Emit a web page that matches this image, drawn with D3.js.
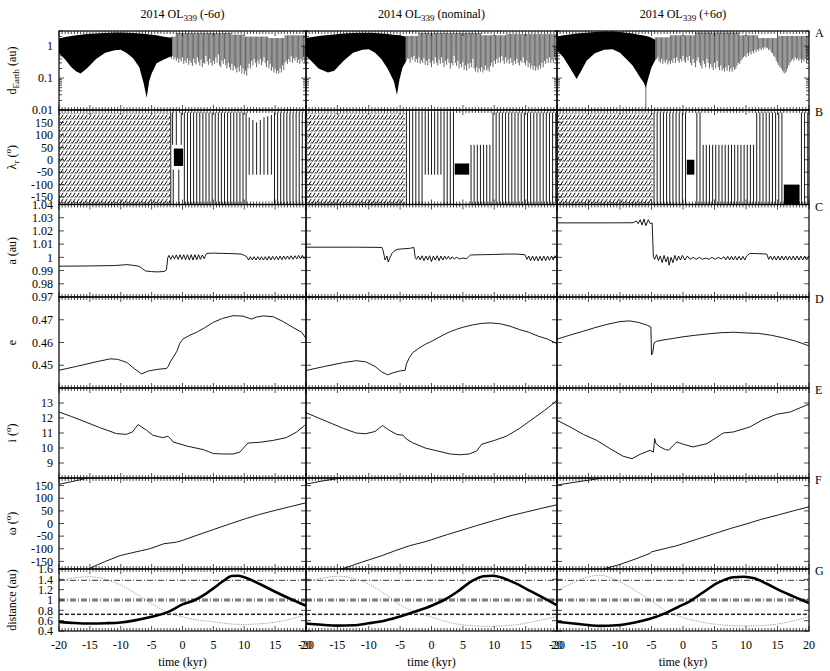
<!DOCTYPE html>
<html>
<head>
<meta charset="utf-8">
<script src="https://cdn.jsdelivr.net/npm/d3@7"></script>
<style>
  body { margin: 0; background: #fff; }
  text { font-family: "Liberation Serif", "DejaVu Serif", serif; font-size: 12px; fill: #000; }
</style>
</head>
<body>
<svg id="chart" width="830" height="671"></svg>
<script>
// ---- data (time in kyr) ----
var titles = ["(-6σ)", "(nominal)", "(+6σ)"];
var timeTicks = [-20, -15, -10, -5, 0, 5, 10, 15, 20];
var panelLetters = ["A", "B", "C", "D", "E", "F", "G"];
var dTicks = [0.01, 0.1, 1];
var lamTicks = [-150, -100, -50, 0, 50, 100, 150];
var aTicks = [0.97, 0.98, 0.99, 1, 1.01, 1.02, 1.03, 1.04];
var eTicks = [0.45, 0.46, 0.47];
var iTicks = [9, 10, 11, 12, 13];
var wTicks = [-150, -100, -50, 0, 50, 100, 150];
var gTicks = [0.4, 0.6, 0.8, 1, 1.2, 1.4, 1.6];
// perihelion / aphelion of Mars, Earth, Venus (au)
var planetDist = [1.381, 1.017, 0.983, 0.728, 0.718];

// A: filled band [t, upper, lower]; close-approach minima [t, low]; top of the spikes [t0, t1, high]
var dBandM6 = [[-20,1.75,0.6],[-19,1.95,0.38],[-18,2.1,0.22],[-17.2,2.2,0.16],[-16.5,2.3,0.14],[-15.5,2.4,0.2],[-14,2.5,0.4],[-12.5,2.6,0.62],[-11,2.7,0.75],[-10,2.7,0.78],[-9,2.65,0.6],[-8,2.6,0.42],[-7,2.5,0.22],[-6.3,2.45,0.07],[-5.8,2.4,0.024],[-5.4,2.35,0.08],[-5,2.3,0.14],[-4.2,2.2,0.29],[-3.2,2.0,0.37],[-2.1,1.87,0.46],[-1.7,1.85,0.48]];
var dLowM6 = [[-1.8,0.4],[-1.6,0.5],[-1.4,0.38],[-1.2,0.45],[-1.0,0.35],[-0.8,0.42],[-0.6,0.3],[-0.4,0.4],[-0.2,0.33],[0,0.45],[0.2,0.28],[0.4,0.36],[0.6,0.3],[0.8,0.42],[1.0,0.26],[1.2,0.35],[1.4,0.3],[1.6,0.24],[1.8,0.4],[2.0,0.3],[2.2,0.27],[2.4,0.45],[2.6,0.32],[2.8,0.25],[3.0,0.38],[3.2,0.22],[3.4,0.3],[3.6,0.28],[3.8,0.5],[4.0,0.33],[4.2,0.26],[4.4,0.4],[4.6,0.3],[4.8,0.24],[5.0,0.35],[5.2,0.28],[5.4,0.45],[5.6,0.3],[5.8,0.55],[6.0,0.25],[6.2,0.22],[6.4,0.35],[6.6,0.28],[6.8,0.4],[7.0,0.25],[7.2,0.2],[7.4,0.3],[7.6,0.22],[7.8,0.18],[8.0,0.28],[8.2,0.17],[8.4,0.24],[8.6,0.2],[8.8,0.15],[9.0,0.22],[9.2,0.16],[9.4,0.25],[9.6,0.14],[9.8,0.2],[10.0,0.13],[10.2,0.17],[10.4,0.12],[10.6,0.2],[10.8,0.28],[11.0,0.2],[11.2,0.35],[11.4,0.25],[11.6,0.4],[11.8,0.3],[12.0,0.22],[12.2,0.35],[12.4,0.28],[12.6,0.4],[12.8,0.25],[13.0,0.33],[13.2,0.45],[13.4,0.3],[13.6,0.22],[13.8,0.35],[14.0,0.2],[14.2,0.28],[14.4,0.17],[14.6,0.22],[14.8,0.15],[15.0,0.19],[15.2,0.14],[15.4,0.17],[15.6,0.14],[15.8,0.2],[16.0,0.15],[16.2,0.25],[16.4,0.18],[16.6,0.3],[16.8,0.35],[17.0,0.28],[17.2,0.4],[17.4,0.32],[17.6,0.5],[17.8,0.3],[18.0,0.42],[18.2,0.35],[18.4,0.45],[18.6,0.3],[18.8,0.38],[19.0,0.28],[19.2,0.4],[19.4,0.33],[19.6,0.45],[19.8,0.3],[20.0,0.4]];
var dTopM6 = [[-1.9,-1,2.0],[-1,8,2.6],[8,10,2.3],[10,14,2.0],[14,16.5,1.8],[16.5,20.1,2.2]];
var dBandNom = [[-20,1.8,0.5],[-19,1.95,0.32],[-18,2.1,0.2],[-16.5,2.25,0.15],[-15.5,2.35,0.17],[-14,2.5,0.35],[-12.5,2.6,0.62],[-11,2.65,0.78],[-10,2.65,0.8],[-9,2.6,0.62],[-8,2.5,0.4],[-7,2.4,0.2],[-6,2.3,0.08],[-5.5,2.25,0.03],[-5.1,2.2,0.09],[-4.6,2.1,0.22],[-4.1,2.0,0.32]];
var dLowNom = [[-4.0,0.35],[-3.8,0.42],[-3.6,0.4],[-3.4,0.3],[-3.2,0.45],[-3.0,0.38],[-2.8,0.5],[-2.6,0.32],[-2.4,0.4],[-2.2,0.3],[-2.0,0.45],[-1.8,0.28],[-1.6,0.36],[-1.4,0.3],[-1.2,0.42],[-1.0,0.26],[-0.8,0.35],[-0.6,0.25],[-0.4,0.4],[-0.2,0.3],[0,0.22],[0.2,0.35],[0.4,0.28],[0.6,0.45],[0.8,0.3],[1.0,0.25],[1.2,0.38],[1.4,0.28],[1.6,0.45],[1.8,0.3],[2.0,0.22],[2.2,0.35],[2.4,0.26],[2.6,0.4],[2.8,0.3],[3.0,0.2],[3.2,0.3],[3.4,0.25],[3.6,0.5],[3.8,0.3],[4.0,0.24],[4.2,0.35],[4.4,0.2],[4.6,0.28],[4.8,0.22],[5.0,0.32],[5.2,0.18],[5.4,0.25],[5.6,0.17],[5.8,0.28],[6.0,0.2],[6.2,0.3],[6.4,0.22],[6.6,0.4],[6.8,0.2],[7.0,0.16],[7.2,0.22],[7.4,0.15],[7.6,0.2],[7.8,0.16],[8.0,0.22],[8.2,0.15],[8.4,0.18],[8.6,0.25],[8.8,0.17],[9.0,0.2],[9.2,0.16],[9.4,0.24],[9.6,0.3],[9.8,0.22],[10.0,0.35],[10.2,0.28],[10.4,0.4],[10.6,0.3],[10.8,0.45],[11.0,0.3],[11.2,0.5],[11.4,0.35],[11.6,0.28],[11.8,0.45],[12.0,0.3],[12.2,0.38],[12.4,0.28],[12.6,0.42],[12.8,0.3],[13.0,0.25],[13.2,0.35],[13.4,0.28],[13.6,0.4],[13.8,0.3],[14.0,0.25],[14.2,0.35],[14.4,0.3],[14.6,0.45],[14.8,0.3],[15.0,0.25],[15.2,0.35],[15.4,0.22],[15.6,0.3],[15.8,0.2],[16.0,0.25],[16.2,0.18],[16.4,0.24],[16.6,0.17],[16.8,0.22],[17.0,0.18],[17.2,0.25],[17.4,0.2],[17.6,0.3],[17.8,0.22],[18.0,0.35],[18.2,0.28],[18.4,0.4],[18.6,0.3],[18.8,0.45],[19.0,0.3],[19.2,0.38],[19.4,0.3],[19.6,0.45],[19.8,0.35],[20.0,0.4]];
var dTopNom = [[-4.1,-2,2.1],[-2,8,2.6],[8,12,2.2],[12,20.1,2.4]];
var dBandP6 = [[-20,2.0,0.75],[-19,2.2,0.45],[-18,2.35,0.22],[-17.2,2.45,0.12],[-16.9,2.5,0.094],[-16.3,2.55,0.15],[-15.3,2.65,0.35],[-14,2.8,0.6],[-12.5,2.9,0.78],[-11.2,2.9,0.8],[-10,2.8,0.62],[-9,2.65,0.4],[-8,2.5,0.25],[-7,2.3,0.12],[-6.2,2.15,0.07],[-5.9,2.1,0.05],[-5.5,2.0,0.1],[-5,1.85,0.22],[-4.4,1.6,0.37]];
var dLowP6 = [[-5.9,0.011],[-4.4,0.37],[-4.2,0.4],[-4.0,0.45],[-3.8,0.35],[-3.6,0.3],[-3.4,0.4],[-3.2,0.28],[-3.0,0.35],[-2.8,0.3],[-2.6,0.38],[-2.4,0.27],[-2.2,0.33],[-2.0,0.28],[-1.8,0.36],[-1.6,0.3],[-1.4,0.42],[-1.2,0.3],[-1.0,0.45],[-0.8,0.35],[-0.6,0.3],[-0.4,0.4],[-0.2,0.33],[0,0.5],[0.2,0.35],[0.4,0.3],[0.6,0.45],[0.8,0.35],[1.0,0.5],[1.2,0.3],[1.4,0.25],[1.6,0.4],[1.8,0.3],[2.0,0.22],[2.2,0.35],[2.4,0.45],[2.6,0.3],[2.8,0.25],[3.0,0.2],[3.2,0.35],[3.4,0.28],[3.6,0.22],[3.8,0.4],[4.0,0.3],[4.2,0.2],[4.4,0.28],[4.6,0.22],[4.8,0.18],[5.0,0.3],[5.2,0.2],[5.4,0.35],[5.6,0.22],[5.8,0.18],[6.0,0.25],[6.2,0.17],[6.4,0.2],[6.6,0.16],[6.8,0.22],[7.0,0.17],[7.2,0.25],[7.4,0.16],[7.6,0.2],[7.8,0.16],[8.0,0.22],[8.2,0.18],[8.4,0.2],[8.6,0.25],[8.8,0.3],[9.0,0.28],[9.2,0.35],[9.4,0.4],[9.6,0.45],[9.8,0.5],[10.0,0.45],[10.2,0.6],[10.4,0.5],[10.6,0.65],[10.8,0.55],[11.0,0.7],[11.2,0.6],[11.4,0.75],[11.6,0.65],[11.8,0.8],[12.0,0.7],[12.2,0.85],[12.4,0.75],[12.6,0.9],[12.8,0.8],[13.0,0.95],[13.2,0.85],[13.4,0.9],[13.6,0.75],[13.8,0.8],[14.0,0.65],[14.2,0.6],[14.4,0.5],[14.6,0.45],[14.8,0.35],[15.0,0.3],[15.2,0.25],[15.4,0.22],[15.6,0.2],[15.8,0.17],[16.0,0.15],[16.2,0.14],[16.4,0.16],[16.6,0.2],[16.8,0.25],[17.0,0.3],[17.2,0.35],[17.4,0.4],[17.6,0.35],[17.8,0.45],[18.0,0.38],[18.2,0.42],[18.4,0.35],[18.6,0.4],[18.8,0.3],[19.0,0.38],[19.2,0.33],[19.4,0.4],[19.6,0.3],[19.8,0.35],[20.0,0.38]];
var dTopP6 = [[-6,-5.8,0.06],[-4.5,-2,1.9],[-2,2,2.2],[2,9,2.7],[9,12,2.2],[12,15,1.8],[15,20.1,2.1]];

// B: circulating (densely wrapped) interval, libration blobs [t0,t1,lo,hi], vertical wraps [t,lo,hi]
var lamCircM6 = [-20, -2.0];
var lamBlobM6 = [[-1.4, 0.1, -25, 45]];
var lamLineM6 = [[-1.9,-180,190],[-1.6,60,190],[-1.5,-180,-40],[-1.0,60,190],[-0.6,-180,-40],[-0.2,60,190],[0.3,-180,190],[0.8,-180,190],[1.3,-180,190],[1.8,-180,190],[2.3,-180,190],[2.8,-180,190],[3.3,-180,190],[3.8,-180,190],[4.3,-180,190],[4.8,-180,190],[5.3,-180,190],[5.8,-180,190],[6.3,-180,190],[6.8,-180,190],[7.3,-180,190],[7.8,-180,190],[8.3,-180,190],[8.8,-180,190],[9.3,-180,190],[9.8,-180,190],[10.3,-180,190],[10.8,-60,170],[11.4,-60,160],[12.0,-60,150],[12.6,-60,160],[13.2,-60,170],[13.8,-60,175],[14.4,-60,180],[14.9,-180,190],[15.4,-180,190],[15.9,-180,190],[16.4,-180,190],[16.9,-180,190],[17.4,-180,190],[17.9,-180,190],[18.4,-180,190],[18.9,-180,190],[19.4,-180,190],[19.9,-180,190]];
var lamCircNom = [-20, -4.2];
var lamBlobNom = [[3.7, 6.0, -60, -15]];
var lamLineNom = [[-4.0,-180,190],[-3.5,-180,190],[-3.0,-180,190],[-2.5,-180,190],[-2.0,-180,190],[-1.5,-180,190],[-1.0,-60,190],[-0.5,-60,190],[0.0,-60,190],[0.5,-60,190],[1.0,-60,190],[1.5,-60,190],[2.0,-180,190],[2.5,-180,190],[3.0,-180,190],[3.5,-180,190],[6.3,-180,60],[6.8,-180,60],[7.3,-180,60],[7.8,-180,60],[8.3,-180,60],[8.8,-180,60],[9.3,-180,60],[9.8,-180,190],[10.3,-180,190],[10.8,-180,190],[11.3,-180,190],[11.8,-180,190],[12.3,-180,190],[12.8,-180,190],[13.3,-180,190],[13.8,-180,190],[14.3,-180,190],[14.8,-180,190],[15.3,-180,190],[15.8,-180,190],[16.3,-180,190],[16.8,-180,190],[17.3,-180,190],[17.8,-180,190],[18.3,-180,190],[18.8,-180,190],[19.3,-180,190],[19.8,-180,190]];
var lamCircP6 = [-20, -4.8];
var lamBlobP6 = [[0.6, 1.8, -60, 0], [16.0, 18.5, -180, -100]];
var lamLineP6 = [[-4.6,-180,190],[-4.1,-180,190],[-3.6,-180,190],[-3.1,-180,190],[-2.6,-180,190],[-2.1,-180,190],[-1.6,-180,190],[-1.1,-180,190],[-0.6,-180,190],[-0.1,-180,190],[0.4,-180,190],[2.2,-180,190],[2.7,-180,190],[3.2,-180,60],[3.7,-180,60],[4.2,-180,60],[4.7,-180,60],[5.2,-180,60],[5.7,-180,60],[6.2,-180,60],[6.7,-180,60],[7.2,-180,60],[7.7,-180,60],[8.2,-180,60],[8.7,-180,60],[9.2,-180,60],[9.7,-180,60],[10.2,-180,60],[10.7,-180,60],[11.2,-180,60],[11.7,-180,190],[12.2,-180,190],[12.7,-180,190],[13.2,-180,190],[13.7,-180,190],[14.2,-180,190],[14.7,-180,190],[15.2,-180,190],[15.7,-180,190],[18.8,-180,190],[19.3,-180,190],[19.8,-180,190]];

// C: semi-major axis (au)
var semiM6 = [[-20,0.9933],[-15,0.9935],[-11,0.9938],[-9,0.9945],[-8,0.994],[-7,0.9932],[-6.5,0.9915],[-6,0.9897],[-5,0.9892],[-4,0.989],[-3,0.9893],[-2.6,0.9905],[-2.4,0.9995],[-2.2,1.0015],[-1.9,0.9985],[-1.6,1.0015],[-1.3,0.9988],[-1.0,1.0018],[-0.7,0.9985],[-0.4,1.002],[-0.1,0.9985],[0.2,1.002],[0.5,0.9982],[0.8,1.002],[1.1,0.998],[1.4,1.002],[1.7,0.998],[2.0,1.002],[2.3,0.9982],[2.6,1.002],[2.9,0.9985],[3.2,1.0018],[3.5,0.999],[3.9,1.003],[5,1.0032],[6.5,1.003],[8,1.0028],[9.5,1.0025],[10.0,1.0015],[10.4,1.0005],[10.7,0.998],[11.0,1.0005],[11.3,0.998],[11.6,1.0005],[11.9,0.998],[12.2,1.0005],[12.5,0.998],[12.8,1.0005],[13.1,0.998],[13.4,1.0005],[13.7,0.998],[14.0,1.0008],[14.3,0.998],[14.6,1.0008],[14.9,0.9982],[15.2,1.0008],[15.5,0.9982],[15.8,1.001],[16.1,0.9982],[16.4,1.001],[16.7,0.9985],[17.0,1.001],[17.3,0.9985],[17.6,1.0012],[17.9,0.9985],[18.2,1.0012],[18.5,0.9988],[18.8,1.0015],[19.1,0.9988],[19.4,1.0015],[19.7,0.999],[20,1.0015]];
var semiNom = [[-20,1.0077],[-12,1.0077],[-7.9,1.0075],[-7.7,1.005],[-7.4,0.998],[-7.1,1.001],[-6.9,0.9965],[-6.6,1.0],[-6.3,1.003],[-6.0,1.0045],[-5.5,1.006],[-4.5,1.0065],[-3.5,1.0068],[-2.8,1.0075],[-2.6,1.0],[-2.4,0.9985],[-2.1,1.001],[-1.8,0.998],[-1.5,1.0012],[-1.2,0.9975],[-0.9,1.001],[-0.6,0.998],[-0.3,1.0012],[0,0.9968],[0.3,1.001],[0.6,0.998],[0.9,1.0012],[1.2,0.9975],[1.5,1.001],[1.8,0.998],[2.1,1.001],[2.4,0.9985],[2.7,1.0008],[3.0,0.9985],[3.3,1.0005],[3.6,0.9988],[4.0,1.0],[4.5,0.9988],[5.0,0.9995],[5.6,0.999],[6.2,1.0018],[8,1.002],[10,1.0022],[12,1.0025],[13.5,1.0025],[14.9,1.002],[15.2,0.9985],[15.5,1.001],[15.8,0.9975],[16.1,1.001],[16.4,0.9975],[16.7,1.0008],[17.0,0.9972],[17.3,1.0008],[17.6,0.9975],[17.9,1.001],[18.2,0.9975],[18.5,1.001],[18.8,0.9978],[19.1,1.001],[19.4,0.998],[19.7,1.0012],[20,0.9985]];
var semiP6 = [[-20,1.0261],[-12,1.0261],[-7.9,1.0262],[-7.4,1.0275],[-7.1,1.0255],[-6.8,1.0285],[-6.5,1.0245],[-6.2,1.029],[-5.9,1.024],[-5.5,1.0285],[-5.2,1.0255],[-4.9,1.026],[-4.7,1.0005],[-4.5,0.9985],[-4.2,1.002],[-3.9,0.9975],[-3.6,1.001],[-3.3,0.996],[-3.0,1.0015],[-2.7,0.9965],[-2.4,1.0005],[-2.2,0.9941],[-1.9,1.0],[-1.6,0.996],[-1.3,1.0015],[-1.0,0.9975],[-0.7,1.001],[-0.4,0.998],[-0.1,1.0015],[0.3,0.998],[0.7,1.001],[1.1,0.9985],[1.6,1.0],[2.1,0.9985],[2.6,1.0],[3.1,0.9985],[3.6,0.9995],[4.1,0.9985],[4.6,1.0],[5.1,0.9985],[5.6,1.0],[6.1,0.9988],[6.5,1.0005],[6.8,0.9982],[7.1,1.0008],[7.4,0.998],[7.7,1.0008],[8.0,0.998],[8.3,1.0008],[8.6,0.998],[8.9,1.0008],[9.2,0.998],[9.5,1.0008],[9.8,0.998],[10.1,1.001],[10.6,1.003],[12,1.0028],[13.3,1.0025],[13.6,0.9985],[13.9,1.001],[14.2,0.998],[14.5,1.001],[14.8,0.998],[15.1,1.001],[15.4,0.998],[15.7,1.001],[16.0,0.998],[16.3,1.001],[16.6,0.998],[16.9,1.001],[17.2,0.998],[17.5,1.001],[17.8,0.998],[18.1,1.001],[18.4,0.998],[18.7,1.001],[19.0,0.998],[19.3,1.001],[19.6,0.998],[20,1.001]];

// D: eccentricity
var eccM6 = [[-20,0.4478],[-17,0.4496],[-14,0.4515],[-11.7,0.4528],[-10.5,0.4526],[-9,0.4512],[-7.8,0.4485],[-6.6,0.4462],[-5.5,0.4475],[-4,0.4482],[-2.6,0.4486],[-2.3,0.4495],[-2.0,0.4514],[-1.5,0.4535],[-0.9,0.4562],[-0.4,0.4598],[0.1,0.4616],[1.2,0.4632],[2.3,0.4645],[3.6,0.4665],[5.0,0.4689],[6.5,0.4706],[8.2,0.4718],[9.8,0.4716],[10.6,0.4708],[11.2,0.4703],[12.0,0.4712],[13.1,0.4717],[14.7,0.4713],[16.3,0.4692],[17.9,0.4666],[19.3,0.4645],[20,0.4618]];
var eccNom = [[-20,0.4477],[-17,0.4495],[-14,0.4512],[-12,0.452],[-10.5,0.4515],[-9,0.4495],[-8,0.4472],[-7,0.4458],[-6,0.4468],[-5,0.4475],[-4.2,0.4478],[-4.0,0.4505],[-3.5,0.4535],[-3,0.4555],[-2,0.4575],[-1,0.4592],[0,0.4605],[1,0.462],[2,0.4635],[3,0.4648],[4,0.4658],[5,0.4667],[6.5,0.4677],[8,0.4684],[9.5,0.4686],[11,0.4682],[12.5,0.4672],[14,0.4657],[15.5,0.4645],[17,0.4628],[18.5,0.4615],[20,0.4595]];
var eccP6 = [[-20,0.4615],[-18,0.4632],[-16,0.4648],[-14,0.4665],[-12,0.468],[-10,0.4692],[-8.5,0.4695],[-7,0.4688],[-5.6,0.4675],[-5.1,0.4668],[-5.0,0.4545],[-4.8,0.4555],[-4.6,0.4598],[-4.2,0.4605],[-3,0.4612],[-1.5,0.4618],[0,0.4625],[2,0.4632],[4,0.4638],[6,0.4643],[8,0.4645],[10,0.4642],[12,0.464],[14,0.4632],[16,0.462],[18,0.4605],[20,0.4585]];

// E: inclination (deg)
var incM6 = [[-20,12.4],[-18,12.1],[-16.1,11.8],[-13.4,11.36],[-10.7,10.96],[-9.1,10.91],[-8.1,11.07],[-7.2,11.56],[-5.8,11.18],[-4.8,10.85],[-3.2,10.69],[-2.4,10.78],[-2.1,10.7],[-1.5,10.4],[0.7,10.13],[3.4,9.89],[5.0,9.63],[6.6,9.6],[8.2,9.6],[9.3,9.73],[10.6,10.33],[12.5,10.38],[14.7,10.51],[16.8,10.69],[18.5,11.07],[19.8,11.51],[20,11.55]];
var incNom = [[-20,12.35],[-18,12.0],[-16,11.65],[-14,11.3],[-12,11.0],[-10.5,10.95],[-9,11.1],[-7.8,11.5],[-6.8,11.2],[-5.5,10.9],[-4.5,10.85],[-4.0,10.6],[-3,10.35],[-1,10.0],[1,9.8],[3,9.6],[4.5,9.55],[6,9.6],[7.2,9.8],[8,10.25],[10,10.5],[12,10.8],[14,11.3],[16,11.9],[18,12.5],[19.5,13.0],[20,13.2]];
var incP6 = [[-20,11.85],[-17.9,11.4],[-15.8,10.9],[-13.7,10.51],[-11.6,9.96],[-9.5,9.45],[-8.1,9.29],[-6.8,9.58],[-5.2,9.85],[-4.7,9.73],[-4.5,10.63],[-4.3,10.3],[-3.65,10.07],[-2.8,9.9],[-2.3,9.85],[-1.0,10.4],[0.05,10.25],[1.6,10.07],[3.8,10.29],[6.4,11.0],[8.0,11.07],[10.6,11.4],[12.7,11.89],[14.9,12.25],[17.0,12.4],[19.9,12.91],[20,12.95]];

// F: argument of perihelion (deg), wraps at +/-180
var omegaM6 = [[-20,155],[-17.5,168],[-15.3,180],[-15.3,-180],[-12.5,-150],[-10.1,-127],[-7.5,-112],[-5.3,-100],[-3,-80],[-1,-74],[0.1,-66],[2.5,-45],[5.0,-24],[7.5,-3],[10.2,19],[12.5,36],[15,52],[17.5,67],[20,82]];
var omegaNom = [[-20,156],[-17,170],[-14.3,180],[-14.3,-180],[-11,-152],[-8,-128],[-5.5,-105],[-3.5,-88],[-1,-72],[0,-64],[2.5,-44],[5,-25],[7.5,-6],[10,12],[12.5,30],[15,45],[17.5,60],[20,74]];
var omegaP6 = [[-20,152],[-17,164],[-14,175],[-12.7,180],[-12.7,-180],[-10,-162],[-7.5,-140],[-5.2,-118],[-5.0,-112],[-3,-100],[-1,-88],[0,-80],[2.5,-60],[5,-40],[7.5,-20],[10,-2],[12.5,17],[15,33],[17.5,50],[20,66]];

// G: nodal distances (au); thick = descending node, thin = ascending node
var nodeDescM6 = [[-20,0.577],[-17.5,0.555],[-15,0.545],[-12.5,0.55],[-10,0.565],[-7.5,0.61],[-5,0.675],[-2.5,0.76],[0,0.915],[2,1.0],[3.5,1.1],[5,1.225],[6.5,1.36],[8,1.464],[9,1.47],[10,1.44],[12.5,1.31],[15,1.16],[17.5,1.02],[20,0.89]];
var nodeAscM6 = [[-20,1.367],[-17.5,1.43],[-15,1.45],[-12.5,1.4],[-10,1.29],[-7.5,1.12],[-5,0.93],[-2.5,0.77],[0,0.675],[2.5,0.61],[5,0.577],[7.5,0.54],[10,0.527],[12.5,0.54],[15,0.57],[17.5,0.63],[20,0.72]];
var nodeDescNom = [[-20,0.545],[-17.5,0.52],[-15,0.505],[-12.5,0.51],[-10,0.55],[-7.5,0.6],[-4.5,0.7],[-2,0.8],[0,0.89],[2,1.0],[4,1.15],[6.5,1.37],[8.3,1.46],[9.8,1.47],[11.5,1.42],[13.1,1.34],[15.8,1.17],[18,1.03],[20,0.9]];
var nodeAscNom = [[-20,1.35],[-17.5,1.42],[-14.9,1.46],[-12.5,1.42],[-9.9,1.3],[-7.5,1.12],[-4.5,0.87],[-2,0.75],[0,0.67],[3,0.56],[6.5,0.5],[9,0.49],[11.4,0.5],[14,0.53],[17,0.6],[20,0.68]];
var nodeDescP6 = [[-20,0.58],[-17,0.54],[-13.3,0.5],[-10.5,0.51],[-7.8,0.56],[-5.1,0.64],[-2.5,0.76],[-0.7,0.87],[1,0.97],[3.1,1.14],[5.5,1.33],[8,1.44],[9.7,1.45],[11.3,1.42],[13.2,1.32],[15.1,1.2],[17.5,1.07],[20,0.94]];
var nodeAscP6 = [[-20,1.17],[-17.5,1.33],[-15.5,1.43],[-13.3,1.48],[-10.5,1.38],[-7.8,1.2],[-5,0.98],[-2.4,0.77],[0,0.66],[3.1,0.57],[6,0.52],[8.6,0.5],[11,0.5],[14,0.52],[17,0.58],[20,0.68]];

var columns = [
  {dBand: dBandM6, dLow: dLowM6, dTop: dTopM6, lamCirc: lamCircM6, lamBlob: lamBlobM6, lamLine: lamLineM6, semi: semiM6, ecc: eccM6, inc: incM6, omega: omegaM6, desc: nodeDescM6, asc: nodeAscM6},
  {dBand: dBandNom, dLow: dLowNom, dTop: dTopNom, lamCirc: lamCircNom, lamBlob: lamBlobNom, lamLine: lamLineNom, semi: semiNom, ecc: eccNom, inc: incNom, omega: omegaNom, desc: nodeDescNom, asc: nodeAscNom},
  {dBand: dBandP6, dLow: dLowP6, dTop: dTopP6, lamCirc: lamCircP6, lamBlob: lamBlobP6, lamLine: lamLineP6, semi: semiP6, ecc: eccP6, inc: incP6, omega: omegaP6, desc: nodeDescP6, asc: nodeAscP6}
];

// ---- layout ----
var colX = [[59, 306], [306, 557], [557, 809]];
var rowY = {A: [31, 110], B: [110, 204.5], C: [204.5, 297], D: [297, 388], E: [388, 478], F: [478, 569], G: [569, 631]};
var rowKeys = ["A", "B", "C", "D", "E", "F", "G"];

var yScale = {
  A: d3.scaleLog().domain([0.01, 3]).range([rowY.A[1], rowY.A[0]]),
  B: d3.scaleLinear().domain([-180, 200]).range([rowY.B[1], rowY.B[0]]),
  C: d3.scaleLinear().domain([0.97, 1.04]).range([rowY.C[1], rowY.C[0]]),
  D: d3.scaleLinear().domain([0.44, 0.48]).range([rowY.D[1], rowY.D[0]]),
  E: d3.scaleLinear().domain([8, 14]).range([rowY.E[1], rowY.E[0]]),
  F: d3.scaleLinear().domain([-180, 180]).range([rowY.F[1], rowY.F[0]]),
  G: d3.scaleLinear().domain([0.4, 1.6]).range([rowY.G[1], rowY.G[0]])
};
var yTickVals = {A: dTicks, B: lamTicks, C: aTicks, D: eTicks, E: iTicks, F: wTicks, G: gTicks};

var svg = d3.select("#chart");
var defs = svg.append("defs");

// hatch used for the densely circulating lambda_r stretch
var pat = defs.append("pattern")
    .attr("id", "circ")
    .attr("patternUnits", "userSpaceOnUse")
    .attr("width", 4).attr("height", 6);
pat.append("path").attr("d", "M0.3,5.5 L3.2,0.8").attr("stroke", "#000").attr("stroke-width", 1);
pat.append("path").attr("d", "M2.6,6 L4,3.8").attr("stroke", "#222").attr("stroke-width", 0.7);

function topAt(ranges, t) {
  for (var i = 0; i < ranges.length; i++) if (t >= ranges[i][0] && t < ranges[i][1]) return ranges[i][2];
  return ranges[ranges.length - 1][2];
}

columns.forEach(function(col, ci) {
  var x = d3.scaleLinear().domain([-20, 20]).range(colX[ci]);

  rowKeys.forEach(function(k) {
    defs.append("clipPath").attr("id", "clip" + ci + k)
      .append("rect")
        .attr("x", colX[ci][0]).attr("y", rowY[k][0])
        .attr("width", colX[ci][1] - colX[ci][0]).attr("height", rowY[k][1] - rowY[k][0]);
  });
  function layer(k) {
    return svg.append("g").attr("clip-path", "url(#clip" + ci + k + ")");
  }

  // A: distance to Earth
  var gA = layer("A"), yA = yScale.A;
  gA.append("path").datum(col.dBand)
      .attr("fill", "#000")
      .attr("d", d3.area().x(function(d) { return x(d[0]); })
        .y0(function(d) { return yA(d[2]); }).y1(function(d) { return yA(d[1]); }));
  gA.selectAll("line.spk").data(col.dLow).enter().append("line")
      .attr("x1", function(d) { return x(d[0]); }).attr("x2", function(d) { return x(d[0]); })
      .attr("y1", function(d) { return yA(d[1]); }).attr("y2", function(d) { return yA(topAt(col.dTop, d[0])); })
      .attr("stroke", "#000").attr("stroke-width", 0.6);

  // B: relative mean longitude
  var gB = layer("B"), yB = yScale.B;
  gB.append("rect")
      .attr("x", x(col.lamCirc[0])).attr("width", x(col.lamCirc[1]) - x(col.lamCirc[0]))
      .attr("y", yB(188)).attr("height", yB(-180) - yB(188))
      .attr("fill", "url(#circ)");
  gB.selectAll("rect.blob").data(col.lamBlob).enter().append("rect")
      .attr("x", function(d) { return x(d[0]); }).attr("width", function(d) { return x(d[1]) - x(d[0]); })
      .attr("y", function(d) { return yB(d[3]); }).attr("height", function(d) { return yB(d[2]) - yB(d[3]); })
      .attr("fill", "#000");
  gB.selectAll("line.wrap").data(col.lamLine).enter().append("line")
      .attr("x1", function(d) { return x(d[0]); }).attr("x2", function(d) { return x(d[0]); })
      .attr("y1", function(d) { return yB(d[1]); }).attr("y2", function(d) { return yB(d[2]); })
      .attr("stroke", "#000").attr("stroke-width", 0.9);

  // C, D, E: simple curves
  [["C", col.semi], ["D", col.ecc], ["E", col.inc]].forEach(function(p) {
    var yk = yScale[p[0]];
    layer(p[0]).append("path").datum(p[1])
        .attr("fill", "none").attr("stroke", "#000").attr("stroke-width", 0.9)
        .attr("d", d3.line().x(function(d) { return x(d[0]); }).y(function(d) { return yk(d[1]); }));
  });

  // F: omega, broken where it wraps
  var segs = [[]];
  col.omega.forEach(function(d, i) {
    if (i > 0 && Math.abs(d[1] - col.omega[i - 1][1]) > 180) segs.push([]);
    segs[segs.length - 1].push(d);
  });
  var gF = layer("F"), yF = yScale.F;
  segs.forEach(function(s) {
    gF.append("path").datum(s)
        .attr("fill", "none").attr("stroke", "#000").attr("stroke-width", 0.9)
        .attr("d", d3.line().x(function(d) { return x(d[0]); }).y(function(d) { return yF(d[1]); }));
  });

  // G: planetary distances and nodal distances
  var gG = layer("G"), yG = yScale.G;
  gG.selectAll("line.pl").data(planetDist).enter().append("line")
      .attr("x1", colX[ci][0]).attr("x2", colX[ci][1])
      .attr("y1", function(d) { return yG(d); }).attr("y2", function(d) { return yG(d); })
      .attr("stroke", "#000").attr("stroke-width", 0.8)
      .attr("stroke-dasharray", function(d) { return d < 0.8 ? "4,2" : "6,2,1,2"; });
  gG.append("path").datum(col.asc)
      .attr("fill", "none").attr("stroke", "#555").attr("stroke-width", 0.6).attr("stroke-dasharray", "1.2,1.2")
      .attr("d", d3.line().curve(d3.curveMonotoneX).x(function(d) { return x(d[0]); }).y(function(d) { return yG(d[1]); }));
  gG.append("path").datum(col.desc)
      .attr("fill", "none").attr("stroke", "#000").attr("stroke-width", 2.6)
      .attr("d", d3.line().curve(d3.curveMonotoneX).x(function(d) { return x(d[0]); }).y(function(d) { return yG(d[1]); }));

  // frames and ticks (minor x ticks every 0.5 kyr)
  var minor = x.ticks(80);
  rowKeys.forEach(function(k) {
    var y0 = rowY[k][0], y1 = rowY[k][1], yk = yScale[k];
    var g = svg.append("g").attr("stroke", "#000").attr("stroke-width", 0.7);
    g.append("rect")
        .attr("x", colX[ci][0]).attr("y", y0)
        .attr("width", colX[ci][1] - colX[ci][0]).attr("height", y1 - y0)
        .attr("fill", "none").attr("stroke-width", 1.2);
    minor.forEach(function(t) {
      var len = timeTicks.indexOf(t) >= 0 ? 5 : 3;
      g.append("line").attr("x1", x(t)).attr("x2", x(t)).attr("y1", y0).attr("y2", y0 + len);
      g.append("line").attr("x1", x(t)).attr("x2", x(t)).attr("y1", y1).attr("y2", y1 - len);
    });
    var ym = k === "A" ? yk.ticks().filter(function(v) { return dTicks.indexOf(v) < 0; }) : [];
    yTickVals[k].forEach(function(v) {
      g.append("line").attr("x1", colX[ci][0]).attr("x2", colX[ci][0] + 5).attr("y1", yk(v)).attr("y2", yk(v));
      g.append("line").attr("x1", colX[ci][1]).attr("x2", colX[ci][1] - 5).attr("y1", yk(v)).attr("y2", yk(v));
    });
    ym.forEach(function(v) {
      g.append("line").attr("x1", colX[ci][0]).attr("x2", colX[ci][0] + 3).attr("y1", yk(v)).attr("y2", yk(v));
      g.append("line").attr("x1", colX[ci][1]).attr("x2", colX[ci][1] - 3).attr("y1", yk(v)).attr("y2", yk(v));
    });
  });

  // x tick labels and title
  svg.selectAll(null).data(timeTicks).enter().append("text")
      .attr("x", function(d) { return x(d); }).attr("y", rowY.G[1] + 18)
      .attr("text-anchor", "middle").text(function(d) { return d; });
  svg.append("text").attr("x", (colX[ci][0] + colX[ci][1]) / 2).attr("y", 666)
      .attr("text-anchor", "middle").text("time (kyr)");
  var tt = svg.append("text").attr("x", (colX[ci][0] + colX[ci][1]) / 2).attr("y", 18)
      .attr("text-anchor", "middle");
  tt.append("tspan").text("2014 OL");
  tt.append("tspan").attr("font-size", "9px").attr("dy", 3).text("339");
  tt.append("tspan").attr("dy", -3).text(" " + titles[ci]);
});

// y tick labels (left column only)
rowKeys.forEach(function(k) {
  svg.selectAll(null).data(yTickVals[k]).enter().append("text")
      .attr("x", colX[0][0] - 6).attr("y", function(d) { return yScale[k](d); })
      .attr("dy", "0.35em").attr("text-anchor", "end")
      .text(function(d) { return String(d); });
});

// panel letters on the right
rowKeys.forEach(function(k, i) {
  svg.append("text").attr("x", colX[2][1] + 6).attr("y", rowY[k][0] + 2)
      .attr("dy", "0.35em").text(panelLetters[i]);
});

// y axis titles: parts are [text, dy, small]
function yTitle(k, parts) {
  var cy = (rowY[k][0] + rowY[k][1]) / 2;
  var t = svg.append("text").attr("transform", "translate(16," + cy + ") rotate(-90)")
      .attr("text-anchor", "middle");
  parts.forEach(function(p) {
    var s = t.append("tspan").text(p[0]);
    if (p[1]) s.attr("dy", p[1]);
    if (p[2]) s.attr("font-size", "9px");
  });
}
yTitle("A", [["d"], ["Earth", 3, true], [" (au)", -3]]);
yTitle("B", [["λ"], ["r", 3, true], [" (", -3], ["o", -5, true], [")", 5]]);
yTitle("C", [["a (au)"]]);
yTitle("D", [["e"]]);
yTitle("E", [["i ("], ["o", -5, true], [")", 5]]);
yTitle("F", [["ω ("], ["o", -5, true], [")", 5]]);
yTitle("G", [["distance (au)"]]);
</script>
</body>
</html>
